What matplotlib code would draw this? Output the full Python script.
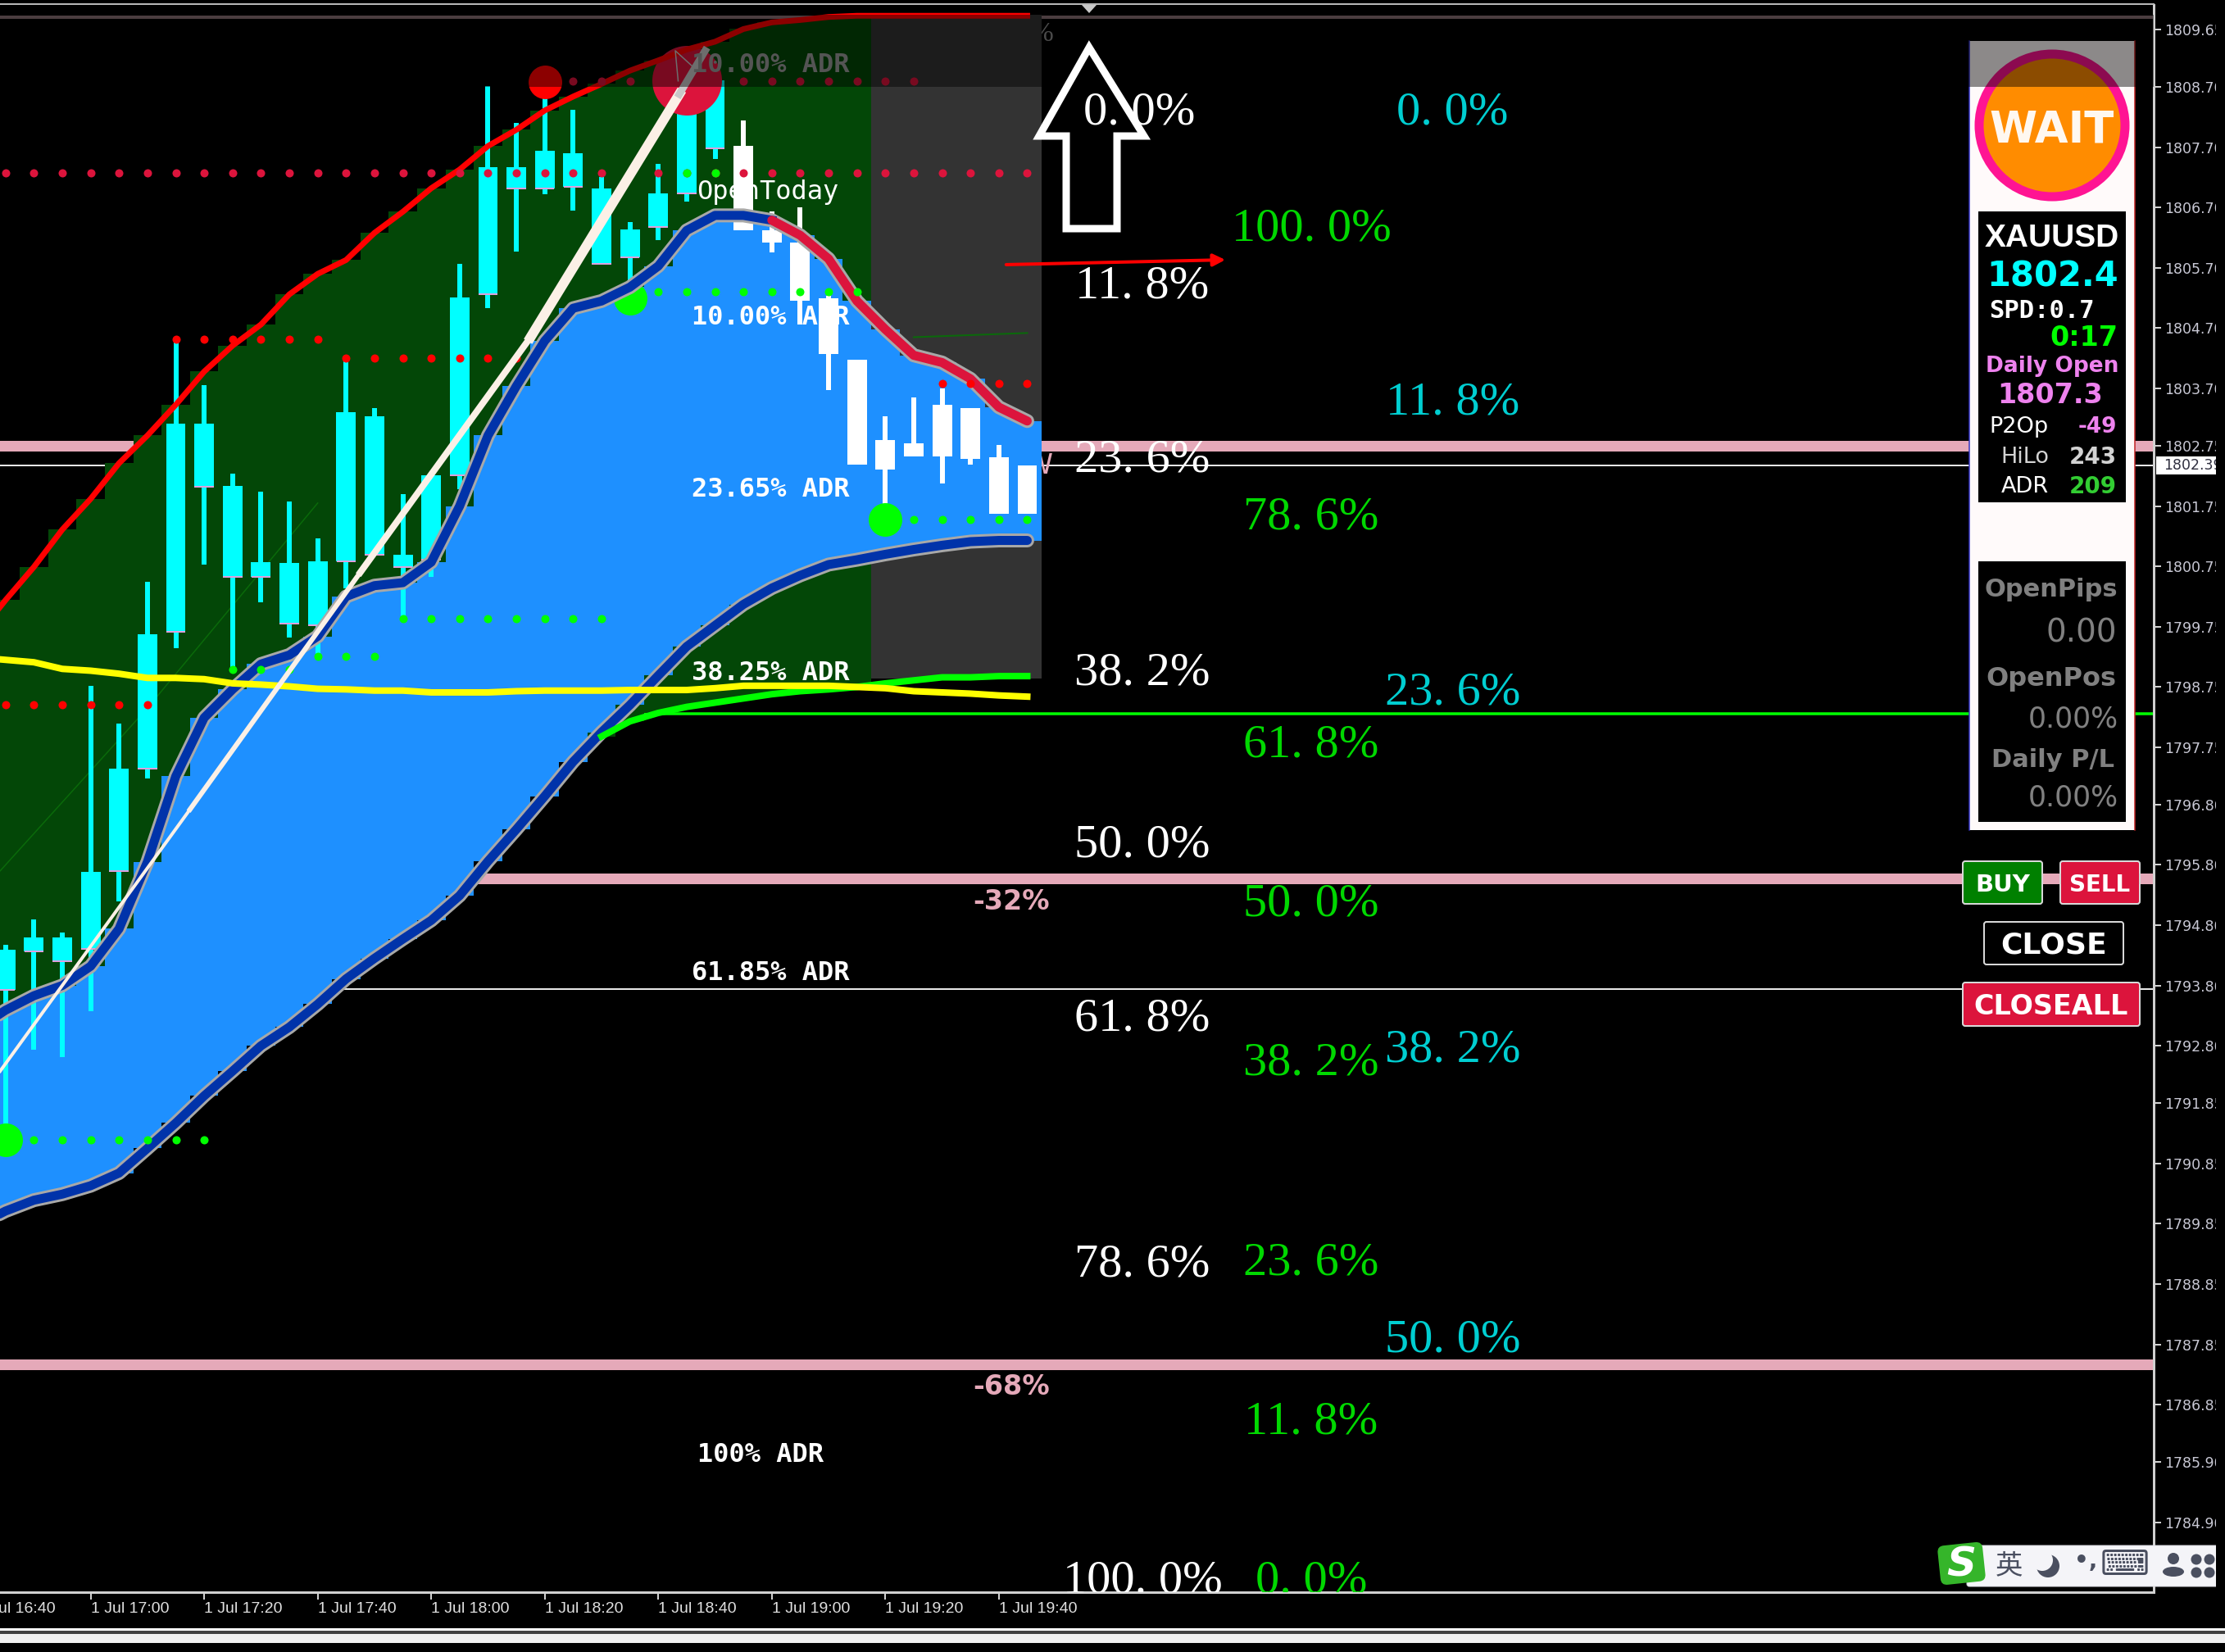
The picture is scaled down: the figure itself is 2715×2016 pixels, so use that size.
import numpy as np
import matplotlib
matplotlib.use('Agg')
import matplotlib.pyplot as plt
from matplotlib.patches import Ellipse, FancyBboxPatch, Polygon, Rectangle
from matplotlib.transforms import Affine2D

W, H = 2715, 2016

# bars, x = bar number, 0 = 17:00, 5 minute bars
bar_idx = np.arange(-3, 34)
opens = [1793.73, 1794.37, 1794.20, 1794.40, 1795.70, 1797.40, 1799.66, 1802.07, 1800.57, 1800.57, 1799.80, 1799.77, 1800.84, 1800.94, 1800.74, 1800.86, 1802.26, 1805.27, 1807.02, 1807.02, 1807.04, 1805.77, 1805.87, 1806.38, 1806.93, 1807.68,
         1807.72, 1806.33, 1806.12, 1805.19, 1804.17, 1802.85, 1802.79, 1803.43, 1803.38, 1802.56, 1802.42]
closes = [1794.39, 1794.60, 1794.60, 1795.69, 1797.39, 1799.63, 1803.12, 1803.12, 1802.09, 1800.82, 1800.80, 1800.83, 1803.31, 1803.24, 1800.94, 1802.26, 1805.21, 1807.37, 1807.37, 1807.64, 1807.60, 1807.02, 1806.34, 1806.94, 1808.81, 1808.81,
          1806.32, 1806.12, 1805.15, 1804.27, 1802.44, 1802.36, 1802.57, 1802.57, 1802.53, 1801.62, 1801.62]
highs = [1794.48, 1794.89, 1794.68, 1798.77, 1798.15, 1800.50, 1804.48, 1803.76, 1802.29, 1801.99, 1801.82, 1801.22, 1804.17, 1803.38, 1801.95, 1802.26, 1805.76, 1808.72, 1808.11, 1808.70, 1808.32, 1807.21, 1806.46, 1807.43, 1808.90, 1808.81,
         1808.15, 1806.63, 1806.71, 1805.23, 1804.17, 1803.24, 1803.55, 1803.70, 1803.38, 1802.77, 1802.43]
lows = [1791.31, 1792.73, 1792.61, 1793.37, 1795.20, 1797.23, 1799.39, 1800.78, 1799.06, 1800.16, 1799.57, 1799.22, 1800.39, 1800.94, 1799.92, 1800.58, 1802.03, 1805.03, 1805.97, 1806.92, 1806.65, 1805.77, 1805.46, 1806.16, 1806.80, 1807.50,
        1806.32, 1805.95, 1804.76, 1803.68, 1802.44, 1801.56, 1802.57, 1802.12, 1802.44, 1801.62, 1801.62]

# bands, first value is bar -4 (just off the left edge)
band_idx = np.arange(-4, 34)
red_line = [1799.60, 1800.19, 1800.74, 1801.36, 1801.87, 1802.46, 1802.92, 1803.43, 1803.98, 1804.41, 1804.76, 1805.26, 1805.60, 1805.83, 1806.28, 1806.63, 1807.02, 1807.33, 1807.72, 1807.99, 1808.31, 1808.54, 1808.75, 1808.97, 1809.14, 1809.32, 1809.45, 1809.66, 1809.77, 1809.81, 1809.86, 1809.88, 1809.88, 1809.88, 1809.88, 1809.88, 1809.88, 1809.88]
band_top = [1793.08, 1793.39, 1793.63, 1793.80, 1794.12, 1794.74, 1795.85, 1797.27, 1798.24, 1798.71, 1799.13, 1799.28, 1799.59, 1800.25, 1800.43, 1800.48, 1800.82, 1801.75, 1802.92, 1803.74, 1804.49, 1805.03, 1805.15, 1805.38, 1805.73, 1806.32, 1806.57, 1806.57, 1806.49, 1806.24, 1805.85, 1805.15, 1804.68, 1804.25, 1804.13, 1803.86, 1803.39, 1803.16]
band_low = [1789.82, 1790.06, 1790.24, 1790.34, 1790.48, 1790.69, 1791.10, 1791.52, 1791.97, 1792.38, 1792.80, 1793.11, 1793.49, 1793.91, 1794.25, 1794.57, 1794.88, 1795.29, 1795.86, 1796.39, 1796.94, 1797.51, 1798.00, 1798.45, 1798.94, 1799.42, 1799.77, 1800.12, 1800.39, 1800.60, 1800.78, 1800.86, 1800.95, 1801.03, 1801.10, 1801.16, 1801.18, 1801.18]
yellow_line = [1799.24, 1799.20, 1799.16, 1799.05, 1799.02, 1798.97, 1798.90, 1798.90, 1798.88, 1798.81, 1798.79, 1798.76, 1798.72, 1798.71, 1798.69, 1798.69, 1798.66, 1798.66, 1798.66, 1798.68, 1798.69, 1798.69, 1798.69, 1798.70, 1798.70, 1798.70, 1798.73, 1798.77, 1798.77, 1798.77, 1798.77, 1798.75, 1798.73, 1798.68, 1798.66, 1798.64, 1798.61, 1798.59]
lime_idx = np.arange(18, 34)
lime_line = [1797.93, 1798.18, 1798.32, 1798.42, 1798.49, 1798.56, 1798.63, 1798.68, 1798.71, 1798.75, 1798.81, 1798.86, 1798.91, 1798.91, 1798.93, 1798.93]

# dotted levels: first bar, last bar, price
red_dots = [(-3, 33, 1807.28), (3, 8, 1804.51), (9, 15, 1804.21), (-3, 2, 1798.46), (30, 33, 1803.78), (17, 29, 1808.80)]
green_dots = [(-2, 4, 1791.24), (5, 7, 1799.04), (8, 10, 1799.26), (11, 18, 1799.88), (20, 27, 1805.30), (29, 33, 1801.52), (21, 22, 1807.28)]
big_circles = [(16, 1808.78, 'red', 41), (21, 1808.81, 'crimson', 85), (19, 1805.20, 'lime', 41), (28, 1801.52, 'lime', 41), (-3, 1791.24, 'lime', 41)]

pink_levels = [1802.75, 1795.58, 1787.52]
white_levels = [1802.42, 1793.74]
green_level = 1798.31

trend_x = [-3.19, 3.5, 9.5, 15.5, 20.74]
trend_y = [1792.38, 1796.72, 1800.65, 1804.55, 1808.58]
trend_w = [4, 6, 8, 12]

y_ticks = [1809.65, 1808.70, 1807.70, 1806.70, 1805.70, 1804.70, 1803.70, 1802.75, 1801.75, 1800.75, 1799.75, 1798.75, 1797.75, 1796.80, 1795.80, 1794.80, 1793.80, 1792.80, 1791.85, 1790.85, 1789.85, 1788.85, 1787.85, 1786.85, 1785.90, 1784.90, 1783.95]
x_ticks = [0, 4, 8, 12, 16, 20, 24, 28, 32]
x_labels = ['1 Jul 17:00', '1 Jul 17:20', '1 Jul 17:40', '1 Jul 18:00', '1 Jul 18:20', '1 Jul 18:40', '1 Jul 19:00', '1 Jul 19:20', '1 Jul 19:40']

# fibonacci labels (text, x, y in pixels)
fib_white = [('0. 0%', 1390, 133), ('11. 8%', 1394, 345), ('23. 6%', 1394, 556), ('38. 2%', 1394, 817), ('50. 0%', 1394, 1027), ('61. 8%', 1394, 1238), ('78. 6%', 1394, 1539), ('100. 0%', 1394, 1924)]
fib_green = [('100. 0%', 1600, 275), ('78. 6%', 1600, 627), ('61. 8%', 1600, 904), ('50. 0%', 1600, 1098), ('38. 2%', 1600, 1293), ('23. 6%', 1600, 1536), ('11. 8%', 1600, 1730), ('0. 0%', 1600, 1924)]
fib_cyan = [('0. 0%', 1772, 133), ('11. 8%', 1773, 487), ('23. 6%', 1773, 840), ('38. 2%', 1773, 1276), ('50. 0%', 1773, 1630)]
adr_labels = [('10.00% ADR', 940, 76, '#9a9a9a'), ('10.00% ADR', 940, 384, 'white'), ('23.65% ADR', 940, 594, 'white'), ('38.25% ADR', 940, 819, 'white'), ('61.85% ADR', 940, 1184, 'white'), ('100% ADR', 928, 1773, 'white'), ('OpenToday', 937, 232, 'white')]

fig = plt.figure(figsize=(W / 100, H / 100), dpi=100, facecolor='black')
ax = fig.add_axes([0, (H - 1943) / H, 2628 / W, (1943 - 6) / H], facecolor='black')


def px(v):
    return v * 0.72


# levels behind everything
for p in pink_levels:
    ax.axhline(p, color='#e5a9b9', lw=px(13), zorder=1)
for p in white_levels:
    ax.axhline(p, color='#e8e8e8', lw=px(2), zorder=1)
ax.plot([18, 72.69], [green_level, green_level], color='lime', lw=px(3.5), zorder=1)
ax.axhline(1809.85, color='#8a6f75', lw=px(4), zorder=1)

green_low = band_low[:22] + lime_line[:10]
green_top = red_line[:32]
ax.bar(band_idx[:32], np.array(green_top) - np.array(green_low), bottom=green_low, width=1.0, color='#034707', zorder=2)
ax.fill_between([27.5, 33.5], 1798.89, 1809.90, color='#333333', lw=0, zorder=2.5)
ax.bar(band_idx, np.array(band_top) - np.array(band_low), bottom=band_low, width=1.0, color='#1e90ff', zorder=3)

# faint trend lines on the green
ax.plot([-3.19, 2, 8], [1795.7, 1798.4, 1801.8], color='#0a6a0a', lw=px(1.5), zorder=3.2)
ax.plot([29, 33], [1804.55, 1804.62], color='#0a6a0a', lw=px(2), zorder=3.2)

# candles
for i, n in enumerate(bar_idx):
    col = 'cyan' if closes[i] > opens[i] else 'white'
    ax.vlines(n, lows[i], highs[i], color=col, lw=px(6), zorder=4)
    ax.bar(n, abs(closes[i] - opens[i]), bottom=min(opens[i], closes[i]), width=0.69, color=col, zorder=4.1)
    if col == 'cyan':
        ax.hlines(opens[i], n - 0.34, n + 0.34, color='plum', lw=px(2), zorder=4.2)

# bands
ax.plot(band_idx, band_low, color='#a8a8a8', lw=px(17), solid_capstyle='round', zorder=5)
ax.plot(band_idx, band_low, color='#0033aa', lw=px(11), solid_capstyle='round', zorder=5.1)
ax.plot(band_idx, band_top, color='#a8a8a8', lw=px(17), solid_capstyle='round', zorder=5)
ax.plot(band_idx[:29], band_top[:29], color='#0033aa', lw=px(11), zorder=5.1)
ax.plot(band_idx[28:], band_top[28:], color='crimson', lw=px(11), solid_capstyle='round', zorder=5.1)
ax.plot(band_idx, red_line, color='red', lw=px(7), zorder=5.2)
ax.plot(band_idx, yellow_line, color='yellow', lw=px(8), zorder=5.4)
ax.plot(lime_idx, lime_line, color='lime', lw=px(8), zorder=5.3)

# dots
for a, b, p in red_dots:
    xs = np.arange(a, b + 1)
    ax.scatter(xs, [p] * len(xs), s=52, color='crimson' if p > 1805 else 'red', lw=0, zorder=6)
for a, b, p in green_dots:
    xs = np.arange(a, b + 1)
    ax.scatter(xs, [p] * len(xs), s=52, color='lime', lw=0, zorder=6.1)
for n, p, c, d in big_circles:
    ax.scatter([n], [p], s=px(d) ** 2, color=c, lw=0, zorder=4.5)

# white trend arrow, gets wider towards the top
for i in range(4):
    ax.plot(trend_x[i:i + 2], trend_y[i:i + 2], color='#fbf0e6', lw=px(trend_w[i]), zorder=6.5)
ax.plot([20.74, 21.65], [1808.58, 1809.3], color='#c8c8c8', lw=px(9), zorder=6.5)
ax.plot([20.7, 20.6, 21.3], [1808.8, 1809.3, 1809.0], color='#c8c8c8', lw=px(1.5), zorder=6.5)

# axes
for s in ['top', 'left']:
    ax.spines[s].set_visible(False)
ax.spines['right'].set_color('#d0d0d0')
ax.spines['bottom'].set_color('#d0d0d0')
ax.spines['right'].set_linewidth(px(3))
ax.spines['bottom'].set_linewidth(px(3))
ax.yaxis.tick_right()
ax.set_yticks(y_ticks)
ax.set_yticklabels(['%.2f' % v for v in y_ticks], fontsize=12.5, color='#c8c8d4', family='DejaVu Sans')
ax.tick_params(axis='y', color='#d0d0d0', length=px(9), width=px(2), pad=3)
ax.set_xticks(x_ticks)
ax.set_xticklabels(x_labels, fontsize=14, color='#e0e0e0', family='Liberation Sans', ha='left')
ax.tick_params(axis='x', color='#d0d0d0', length=px(9), width=px(2), pad=2)
ax.set_xlim(-3.194, 72.69)
ax.set_ylim(1783.74, 1810.06)

# everything else is screen furniture, in pixels
ui = fig.add_axes([0, 0, 1, 1], facecolor='none')
ui.set_xlim(0, W)
ui.set_ylim(H, 0)
ui.axis('off')

# the 16:40 label starts off the left edge
ui.text(-28, 1963, '1 Jul 16:40', color='#e0e0e0', fontsize=14, family='Liberation Sans', ha='left', va='center', clip_on=True)

ax.text(1258, 42, '%', transform=ui.transData, color='#8a8a8a', fontsize=24, family='Liberation Serif', ha='left', va='center', zorder=2)
ax.text(1252, 568, 'W', transform=ui.transData, color='#e5a9b9', fontsize=24, family='DejaVu Sans', ha='left', va='center', zorder=2)

for txt, x, y, c in adr_labels:
    ui.text(x, y + 3, txt, color=c, fontsize=23, family='DejaVu Sans Mono', weight='bold' if txt != 'OpenToday' else 'normal', ha='center', va='center', zorder=6.6)
ui.text(1234, 1101, '-32%', color='#e5a9b9', fontsize=24, family='DejaVu Sans', weight='bold', ha='center', va='center', zorder=4)
ui.text(1234, 1693, '-68%', color='#e5a9b9', fontsize=24, family='DejaVu Sans', weight='bold', ha='center', va='center', zorder=4)

for rows, col in [(fib_white, 'white'), (fib_green, '#00d800'), (fib_cyan, '#00ced1')]:
    for txt, x, y in rows:
        t = ui.text(x, y + 5, txt, color=col, fontsize=42, family='Liberation Serif', ha='center', va='center', zorder=8)
        t.set_clip_path(Rectangle((0, 0), W, 1943, transform=ui.transData))
        t.set_clip_on(True)

# red arrow and big outline arrow
ui.annotate('', xy=(1498, 317), xytext=(1225, 323), arrowprops=dict(arrowstyle='-|>', color='red', lw=px(4), mutation_scale=22), zorder=8)
ui.add_patch(Polygon([(1329, 58), (1268, 166), (1301, 166), (1301, 279), (1363, 279), (1363, 166), (1396, 166)], closed=True, fill=False, ec='white', lw=px(9), zorder=9))
ui.add_patch(Polygon([(1320, 6), (1338, 6), (1329, 16)], closed=True, fc='#c8c8c8', ec='none', zorder=9))

# panel
ui.add_patch(Rectangle((2403, 50), 202, 963, fc='#fffafa', ec='none', zorder=5))
ui.plot([2403, 2403], [50, 1013], color='#3030c0', lw=px(1.5), zorder=5.1)
ui.plot([2605, 2605], [50, 1013], color='#c02020', lw=px(1.5), zorder=5.1)
ui.add_patch(Ellipse((2504, 153), 178, 174, fc='#ff8c00', ec='#ff1493', lw=px(11), zorder=5.2))
ui.text(2504, 158, 'WAIT', color='#fff8f0', fontsize=38, family='DejaVu Sans', weight='bold', ha='center', va='center', zorder=5.3)
ui.add_patch(Rectangle((2414, 258), 180, 355, fc='black', ec='none', zorder=5.2))
ui.add_patch(Rectangle((2414, 685), 180, 318, fc='black', ec='none', zorder=5.2))


def panel_text(x, y, s, c, size, ha='center', weight='bold', family='DejaVu Sans'):
    ui.text(x, y + 3, s, color=c, fontsize=size, family=family, weight=weight, ha=ha, va='center', zorder=5.5)


panel_text(2504, 288, 'XAUUSD', 'white', 28, family='Liberation Sans')
panel_text(2505, 335, '1802.4', 'cyan', 30)
panel_text(2491, 376, 'SPD:0.7', 'white', 22, family='DejaVu Sans Mono')
panel_text(2584, 410, '0:17', 'lime', 24, ha='right')
panel_text(2504, 444, 'Daily Open', 'violet', 19)
panel_text(2502, 480, '1807.3', 'violet', 24)
panel_text(2500, 518, 'P2Op', 'white', 19.5, ha='right', weight='normal')
panel_text(2583, 518, '-49', 'violet', 19, ha='right')
panel_text(2500, 555, 'HiLo', 'lightgray', 19.5, ha='right', weight='normal')
panel_text(2583, 555, '243', 'lightgray', 20, ha='right')
panel_text(2500, 591, 'ADR', 'white', 19.5, ha='right', weight='normal')
panel_text(2583, 591, '209', 'limegreen', 20, ha='right')
panel_text(2503, 717, 'OpenPips', 'gray', 22)
panel_text(2583, 770, '0.00', 'gray', 28, ha='right', weight='normal')
panel_text(2503, 826, 'OpenPos', 'gray', 23)
panel_text(2585, 874, '0.00%', 'gray', 25, ha='right', weight='normal')
panel_text(2505, 924, 'Daily P/L', 'gray', 22)
panel_text(2585, 971, '0.00%', 'gray', 25, ha='right', weight='normal')

# buttons
for x0, y0, w, h, fc, txt, size in [(2395, 1051, 97, 52, 'green', 'BUY', 21), (2514, 1051, 97, 52, 'crimson', 'SELL', 20),
                                    (2421, 1125, 170, 52, 'black', 'CLOSE', 26), (2395, 1199, 216, 53, 'crimson', 'CLOSEALL', 24)]:
    ui.add_patch(FancyBboxPatch((x0, y0), w, h, boxstyle='round,pad=0,rounding_size=3', fc=fc, ec='#d8d8d8', lw=px(2), zorder=5))
    ui.text(x0 + w / 2, y0 + h / 2 + 3, txt, color='white', fontsize=size, family='DejaVu Sans', weight='bold', ha='center', va='center', zorder=5.5)

# dim band across the top
ui.add_patch(Rectangle((0, 18), 2628, 88, fc='black', ec='none', alpha=0.45, zorder=7))

# current price tag
ui.add_patch(Rectangle((2631, 557), 90, 22, fc='white', ec='none', zorder=6))
ui.text(2640, 568, '1802.39', color='#303040', fontsize=12.5, family='DejaVu Sans', ha='left', va='center', zorder=6.1)

# input method bar
ui.add_patch(FancyBboxPatch((2400, 1886), 320, 50, boxstyle='round,pad=0,rounding_size=3', fc='#f4f4f8', ec='#d8d8e0', lw=px(1), zorder=10))
ui.add_patch(FancyBboxPatch((2366, 1884), 55, 48, boxstyle='round,pad=0,rounding_size=8', fc='#35b52a', ec='none', zorder=10.1,
                            transform=Affine2D().rotate_deg_around(2393, 1908, -6) + ui.transData))
ui.text(2393, 1909, 'S', color='white', fontsize=36, family='DejaVu Sans', weight='bold', style='italic', ha='center', va='center', zorder=10.2)
ui.text(2451, 1911, '英', color='#4a4f60', fontsize=24, family=['Noto Sans CJK SC', 'DejaVu Sans'], ha='center', va='center', zorder=10.2)
# moon
ui.add_patch(Ellipse((2499, 1911), 28, 28, fc='#4a4f60', ec='none', zorder=10.2))
ui.add_patch(Ellipse((2492, 1904), 26, 26, fc='#f4f4f8', ec='none', zorder=10.3))
ui.text(2545, 1905, '•,', color='#4a4f60', fontsize=20, family='DejaVu Sans', weight='bold', ha='center', va='center', zorder=10.2)
ui.text(2593, 1910, '⌨', color='#4a4f60', fontsize=30, family='DejaVu Sans', ha='center', va='center', zorder=10.2)
ui.add_patch(Ellipse((2652, 1902), 14, 14, fc='#4a4f60', ec='none', zorder=10.2))
ui.add_patch(Ellipse((2652, 1918), 26, 12, fc='#4a4f60', ec='none', zorder=10.2))
for cx in (2680, 2696):
    for cy in (1903, 1919):
        ui.add_patch(Ellipse((cx, cy), 13, 13, fc='#4a4f60', ec='none', zorder=10.2))

# bottom edge of the window, and the cut at the right
ui.add_patch(Rectangle((0, 1987), W, 3, fc='white', ec='none', zorder=11))
ui.add_patch(Rectangle((0, 1990), W, 4, fc='#404040', ec='none', zorder=11))
ui.add_patch(Rectangle((0, 1994), W, 11, fc='#f0f0f0', ec='none', zorder=11))
ui.add_patch(Rectangle((2704, 0), 11, 1987, fc='black', ec='none', zorder=12))
ui.plot([0, 2628], [5, 5], color='#b8b8b8', lw=px(2), zorder=11)

fig.savefig('out.png', dpi=100, facecolor='black')
